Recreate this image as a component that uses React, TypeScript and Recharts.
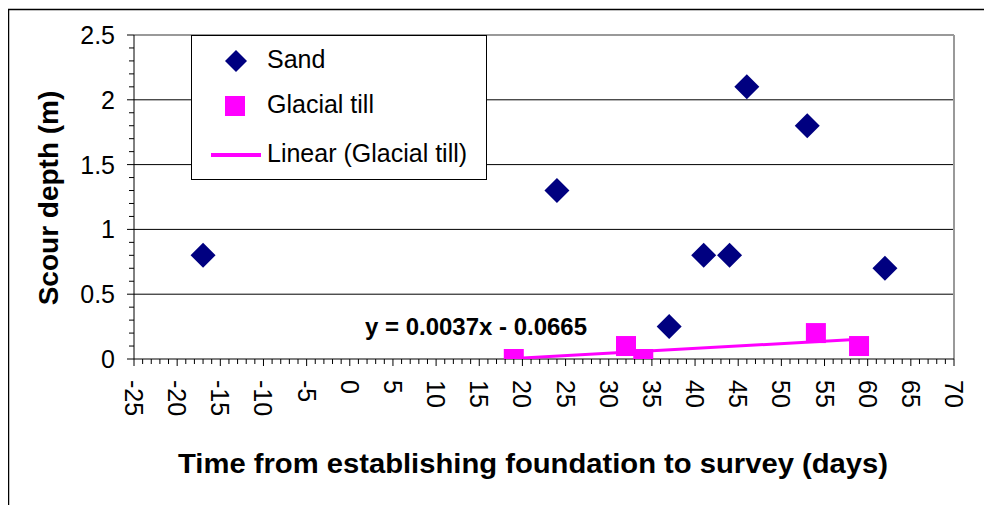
import {
  ReferenceLine,
  Scatter,
  ScatterChart,
  XAxis,
  YAxis,
} from "recharts"

const sandDays = [-17, 24, 37, 41, 44, 46, 53, 62]
const sandDepth = [0.8, 1.3, 0.25, 0.8, 0.8, 2.1, 1.8, 0.7]

const tillDays = [19, 32, 34, 54, 59]
const tillDepth = [0, 0.1, 0, 0.2, 0.1]

// linear trend of the till points, ends
const trendDays = [19, 59]
const trendDepth = [0.004, 0.152]
const trendLabel = "y = 0.0037x - 0.0665"

const xMajorTicks = [-25, -20, -15, -10, -5, 0, 5, 10, 15, 20, 25, 30, 35, 40, 45, 50, 55, 60, 65, 70]
const yMajorTicks = [0, 0.5, 1, 1.5, 2, 2.5]
const gridLines = [0.5, 1, 1.5, 2]

const xTitle = "Time from establishing foundation to survey (days)"
const yTitle = "Scour depth (m)"

const FONT = "'Liberation Sans', Arial, sans-serif"
const NAVY = "#000080"
const MAGENTA = "#FF00FF"

const sand = sandDays.map((x, i) => ({ x, y: sandDepth[i] }))
const till = tillDays.map((x, i) => ({ x, y: tillDepth[i] }))
const trend = trendDays.map((x, i) => ({ x, y: trendDepth[i] }))

// minor ticks every 1 day / 0.1 m
const xTicks: number[] = []
for (let v = xMajorTicks[0]; v <= xMajorTicks[xMajorTicks.length - 1]; v++) xTicks.push(v)
const yTicks: number[] = []
for (let i = 0; i <= 25; i++) yTicks.push(i / 10)

const Diamond = (props: any) => {
  const { cx, cy } = props
  const r = 12.5
  return (
    <polygon
      points={`${cx},${cy - r} ${cx + r},${cy} ${cx},${cy + r} ${cx - r},${cy}`}
      fill={NAVY}
    />
  )
}

const Square = (props: any) => {
  const { cx, cy } = props
  return <rect x={cx - 10} y={cy - 10} width={20} height={20} fill={MAGENTA} />
}

const NoShape = () => <g />

const XTick = (props: any) => {
  const { x, y, payload } = props
  const v = payload.value
  const major = xMajorTicks.includes(v)
  return (
    <g>
      <line x1={x} x2={x} y1={y} y2={y + (major ? 7 : 5)} stroke="#000" />
      {major && (
        <text
          transform={`translate(${x}, ${y + 21}) rotate(90)`}
          textAnchor="start"
          dominantBaseline="central"
          fontSize={25}
          fontFamily={FONT}
          fill="#000"
        >
          {v}
        </text>
      )}
    </g>
  )
}

const YTick = (props: any) => {
  const { x, y, payload } = props
  const v = payload.value
  const major = yMajorTicks.some(t => Math.abs(t - v) < 1e-6)
  return (
    <g>
      <line x1={x - (major ? 7 : 5)} x2={x} y1={y} y2={y} stroke="#000" />
      {major && (
        <text
          x={x - 19}
          y={y}
          textAnchor="end"
          dominantBaseline="central"
          fontSize={25}
          fontFamily={FONT}
          fill="#000"
        >
          {v}
        </text>
      )}
    </g>
  )
}

export default function App() {
  return (
    <div style={{ position: "relative", width: 984, height: 497 }}>
      <ScatterChart
        width={984}
        height={497}
        margin={{ top: 27, right: 38, bottom: 66, left: 46 }}
      >
        <XAxis
          type="number"
          dataKey="x"
          domain={[-25, 70]}
          ticks={xTicks}
          interval={0}
          tick={<XTick />}
          tickLine={false}
          tickSize={0}
          tickMargin={0}
          height={80}
          axisLine={{ stroke: "#000" }}
          allowDataOverflow
        />
        <YAxis
          type="number"
          dataKey="y"
          domain={[0, 2.5]}
          ticks={yTicks}
          interval={0}
          tick={<YTick />}
          tickLine={false}
          tickSize={0}
          tickMargin={0}
          width={80}
          axisLine={{ stroke: "#000" }}
          allowDataOverflow
        />
        {gridLines.map(g => (
          <ReferenceLine key={g} y={g} stroke="#000" strokeWidth={1} />
        ))}
        <ReferenceLine y={2.5} stroke="#999" strokeWidth={2} />
        <ReferenceLine x={70} stroke="#999" strokeWidth={2} />
        <Scatter
          data={trend}
          line={{ stroke: MAGENTA, strokeWidth: 3 }}
          shape={NoShape}
          isAnimationActive={false}
        />
        <Scatter data={till} shape={Square} isAnimationActive={false} />
        <Scatter data={sand} shape={Diamond} isAnimationActive={false} />
      </ScatterChart>

      <svg
        width={984}
        height={497}
        style={{ position: "absolute", left: 0, top: 0, pointerEvents: "none" }}
      >
        <line x1={0.5} x2={0.5} y1={1} y2={497} stroke="#000" strokeWidth={1.5} />
        <line x1={0} x2={984} y1={1.5} y2={1.5} stroke="#000" strokeWidth={1.5} />

        <text
          transform="translate(40, 190) rotate(-90)"
          textAnchor="middle"
          dominantBaseline="central"
          fontSize={28}
          fontWeight="bold"
          fontFamily={FONT}
        >
          {yTitle}
        </text>
        <text
          x={525}
          y={455}
          textAnchor="middle"
          dominantBaseline="central"
          fontSize={28}
          fontWeight="bold"
          fontFamily={FONT}
          textLength={710}
          lengthAdjust="spacingAndGlyphs"
        >
          {xTitle}
        </text>
        <text
          x={468}
          y={327}
          textAnchor="middle"
          fontSize={24}
          fontWeight="bold"
          fontFamily={FONT}
          textLength={222}
          lengthAdjust="spacingAndGlyphs"
        >
          {trendLabel}
        </text>

        <g transform="translate(183, 27)">
          <rect x={0.5} y={0.5} width={295} height={144} fill="#fff" stroke="#000" />
          <polygon points="45,15 56,26 45,37 34,26" fill={NAVY} />
          <text x={76} y={24} dominantBaseline="central" fontSize={25} fontFamily={FONT}>
            Sand
          </text>
          <rect x={34} y={61} width={20} height={20} fill={MAGENTA} />
          <text x={76} y={69} dominantBaseline="central" fontSize={25} fontFamily={FONT}>
            Glacial till
          </text>
          <line x1={20} x2={70} y1={120} y2={120} stroke={MAGENTA} strokeWidth={4} />
          <text x={76} y={118} dominantBaseline="central" fontSize={25} fontFamily={FONT}>
            Linear (Glacial till)
          </text>
        </g>
      </svg>
    </div>
  )
}
